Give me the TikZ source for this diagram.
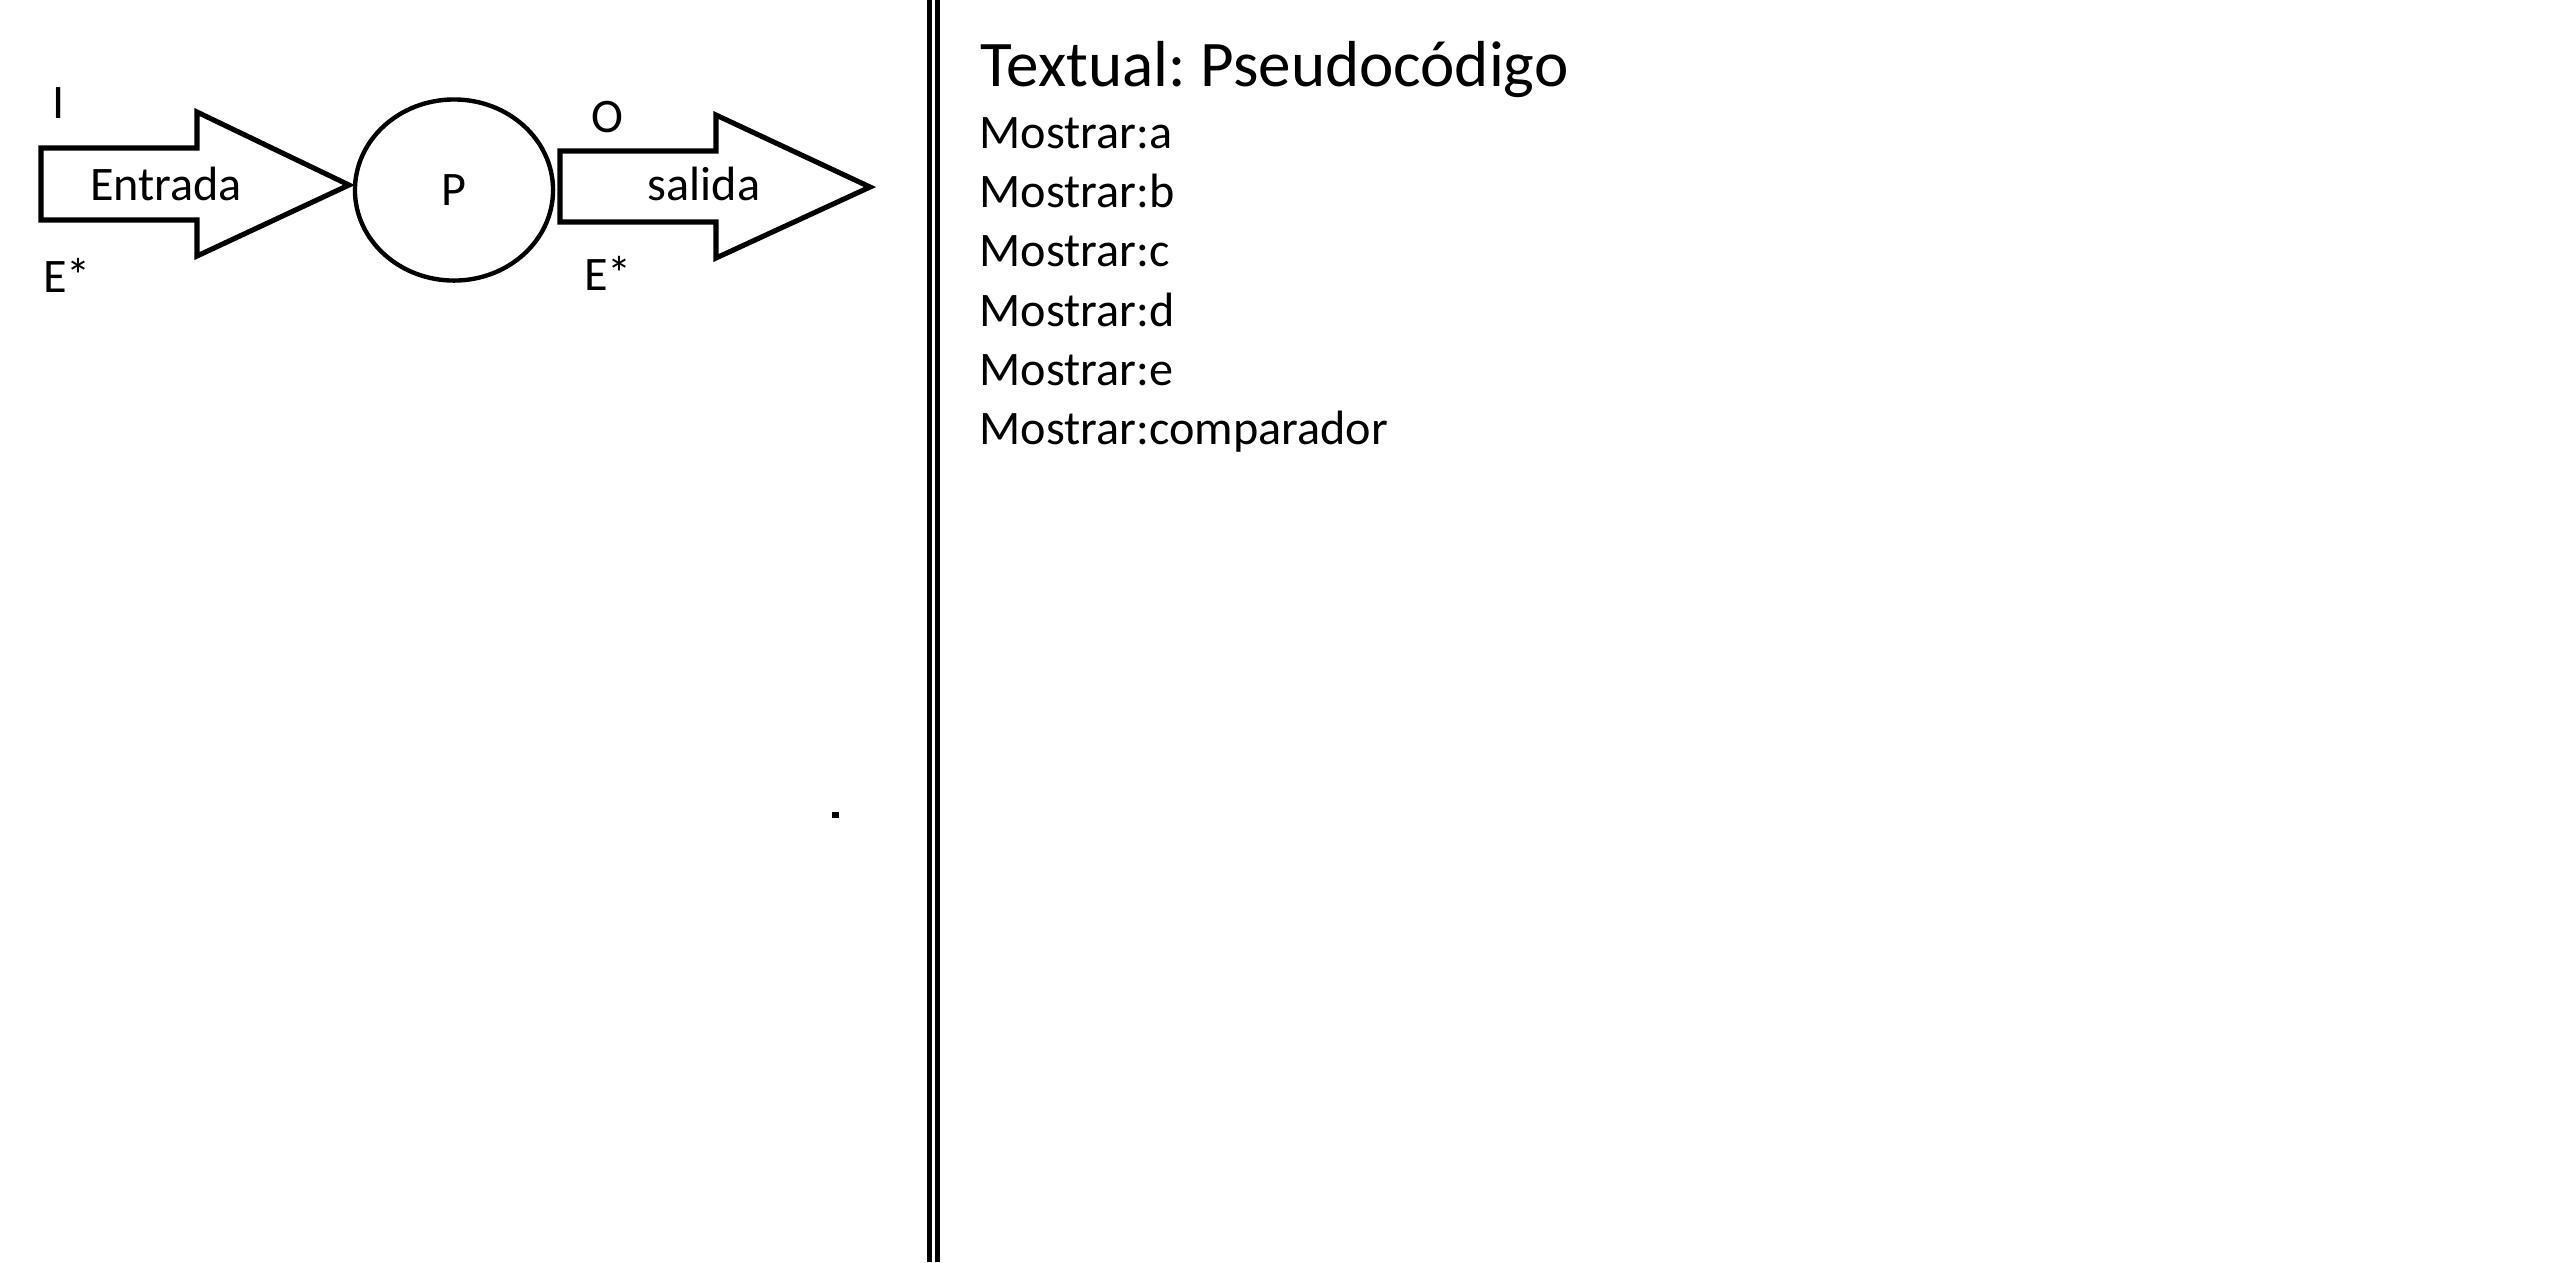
\documentclass[tikz,border=0pt]{standalone}
\usepackage{fontspec}
\setmainfont{Carlito}
\usetikzlibrary{positioning,shapes.geometric}

\begin{document}
\frenchspacing
\begin{tikzpicture}[x=0.01cm, y=-0.01cm,
    block/.style={draw, line width=1.45pt, line join=miter},
    proc/.style={ellipse, draw, line width=1.25pt, minimum width=1.98cm, minimum height=1.81cm, inner sep=0pt, font=\fontsize{13.7}{16}\selectfont},
    tag/.style={inner sep=0pt, anchor=base, font=\fontsize{13.7}{16}\selectfont},
    code/.style={inner sep=0pt, anchor=base west, font=\fontsize{13.7}{16}\selectfont}]

\useasboundingbox (0,0) rectangle (2554,1262);

% Process
\node[proc] (p) at (454,190) {P};

% Input arrow
\coordinate (intip) at (349,185);
\draw[block] (41,148) -- (197,148) -- (197,112) -- (intip) -- (197,256) -- (197,220) -- (41,220) -- cycle;
\node[tag] (entrada) at (166,200) {Entrada};
\node[tag] (itag) at (59,118) {I};
\node[tag] (ein) at (67,292) {E*};

% Output arrow
\coordinate (outtip) at (870,187);
\draw[block] (560,151) -- (716,151) -- (716,115) -- (outtip) -- (716,258) -- (716,222) -- (560,222) -- cycle;
\node[tag] (salida) at (704,200) {salida};
\node[tag] (otag) at (607,132) {O};
\node[tag] (eout) at (608,290) {E*};

% Divider
\draw[line width=1.3pt] (929.5,0) -- (929.5,1262);
\draw[line width=1.4pt] (937.5,0) -- (937.5,1262);
\fill (832,812) rectangle (839,818);

% Pseudocode
\node[code, font=\fontsize{18.5}{22}\selectfont] (title) at (980,86) {Textual: Pseudocódigo};
\node[code] (showa) at (979,148) {Mostrar:a};
\node[code] (showb) at (979,207) {Mostrar:b};
\node[code] (showc) at (979,266) {Mostrar:c};
\node[code] (showd) at (979,326) {Mostrar:d};
\node[code] (showe) at (979,385) {Mostrar:e};
\node[code] (showcmp) at (979,444) {Mostrar:comparador};

\end{tikzpicture}
\end{document}
